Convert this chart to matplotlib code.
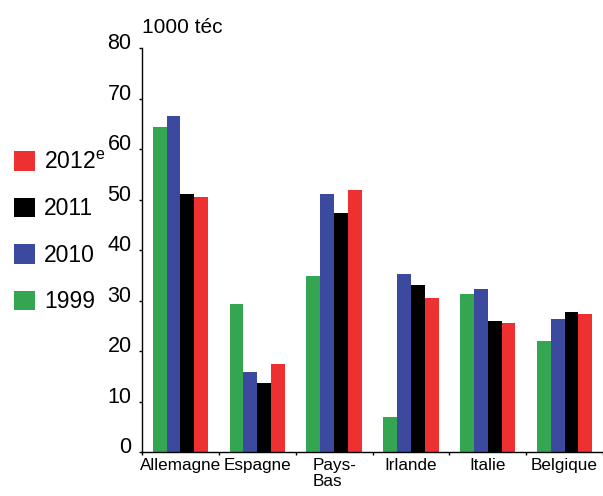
import matplotlib
matplotlib.use('Agg')
import matplotlib.pyplot as plt
import matplotlib.transforms as mtrans
import numpy as np

# Data (1000 téc)
countries = ['Allemagne', 'Espagne', 'Pays-\nBas', 'Irlande', 'Italie', 'Belgique']
years = ['1999', '2010', '2011', '2012$^{\\mathrm{e}}$']
v1999 = [64.5, 29.4, 34.8, 7.0, 31.4, 22.0]
v2010 = [66.5, 15.8, 51.1, 35.2, 32.3, 26.3]
v2011 = [51.1, 13.6, 47.4, 33.0, 25.9, 27.7]
v2012 = [50.6, 17.4, 52.0, 30.6, 25.5, 27.3]
yticks = [0, 10, 20, 30, 40, 50, 60, 70, 80]

colors = ['#34a550', '#3b4a9e', '#000000', '#ee3030']

plt.rcParams['font.family'] = ['Liberation Sans', 'DejaVu Sans']
plt.rcParams['mathtext.fontset'] = 'custom'
plt.rcParams['mathtext.rm'] = 'Liberation Sans'

fig = plt.figure(figsize=(6.03, 4.96), dpi=100)
ax = fig.add_axes([142 / 603, 44 / 496, 461 / 603, 403.7 / 496])

x = np.arange(len(countries))
w = 0.18
bars = []
for i, (vals, c) in enumerate(zip([v1999, v2010, v2011, v2012], colors)):
    b = ax.bar(x + (i - 1.5) * w, vals, w, color=c, edgecolor='none')
    bars.append(b)

ax.set_xlim(-0.5, len(countries) - 0.5)
ax.set_ylim(0, 80)
ax.set_yticks(yticks)
ax.set_yticklabels([str(t) for t in yticks], fontsize=15.5)
ax.tick_params(axis='y', length=2.5, width=1, pad=5)

# y labels sit a bit above their ticks in the original
off = mtrans.ScaledTranslation(0, 7 / 100, fig.dpi_scale_trans)
for lab in ax.get_yticklabels():
    lab.set_transform(lab.get_transform() + off)

ax.set_xticks(x)
ax.set_xticklabels(countries, fontsize=12.3, linespacing=1.15)
for lab in ax.get_xticklabels():
    lab.set_multialignment('left')
ax.tick_params(axis='x', which='major', length=0, pad=4)
ax.set_xticks(np.arange(len(countries) + 1) - 0.5, minor=True)
ax.tick_params(axis='x', which='minor', length=2.5, width=1)

for s in ['top', 'right']:
    ax.spines[s].set_visible(False)
for s in ['left', 'bottom']:
    ax.spines[s].set_linewidth(1)

fig.text(142 / 603, 1 - 33 / 496, '1000 téc', fontsize=15, va='baseline', ha='left')

fig.legend(bars[::-1], years[::-1], loc='upper left',
           bbox_to_anchor=(14 / 603, 1 - 151 / 496), frameon=False,
           borderpad=0, borderaxespad=0, handlelength=0.92, handleheight=0.92,
           handletextpad=0.39, labelspacing=1.02,
           prop={'size': 16.5})

fig.savefig('out.png', dpi=100)
